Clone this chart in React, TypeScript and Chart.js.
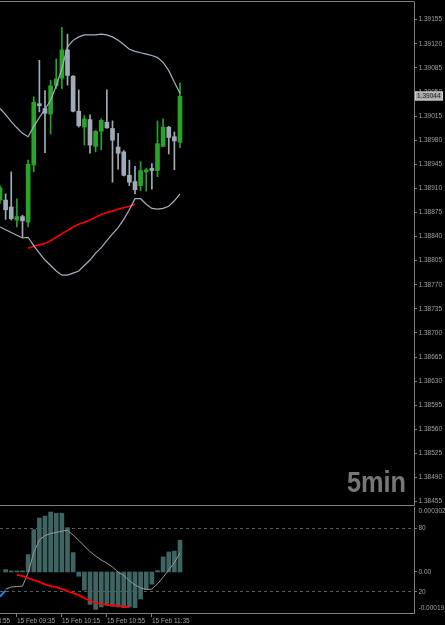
import React, { useEffect, useRef } from 'react';
import { Chart, registerables } from 'chart.js';

Chart.register(...registerables);

// ---- data (5-minute candles, index 0 = 15 Feb 09:20) ----
const opens = [1.38893, 1.38893, 1.38883, 1.38864, 1.38869, 1.38861, 1.38944, 1.39033, 1.39026, 1.39018, 1.39059, 1.39070, 1.39111, 1.39073, 1.39022, 1.38999, 1.39010, 1.38971, 1.38993, 1.39006, 1.38997, 1.38970, 1.38963, 1.38929, 1.38920, 1.38914, 1.38934, 1.38939, 1.38936, 1.38971, 1.38999, 1.38985, 1.38977];
const highs = [1.38914, 1.38902, 1.38934, 1.38895, 1.38871, 1.38951, 1.39043, 1.39096, 1.39052, 1.39067, 1.39098, 1.39144, 1.39134, 1.39074, 1.39053, 1.39016, 1.39017, 1.38994, 1.39011, 1.39053, 1.39008, 1.38990, 1.38965, 1.38951, 1.38942, 1.38949, 1.38939, 1.38946, 1.39008, 1.39011, 1.39000, 1.38992, 1.39063];
const lows = [1.38888, 1.38865, 1.38864, 1.38854, 1.38839, 1.38854, 1.38934, 1.39021, 1.38962, 1.38989, 1.39055, 1.39055, 1.39060, 1.39021, 1.38999, 1.38973, 1.38961, 1.38963, 1.38966, 1.38997, 1.38919, 1.38938, 1.38928, 1.38914, 1.38902, 1.38907, 1.38906, 1.38909, 1.38927, 1.38971, 1.38960, 1.38937, 1.38969];
const closes = [1.38911, 1.38879, 1.38866, 1.38869, 1.38863, 1.38945, 1.39035, 1.39030, 1.39019, 1.39059, 1.39069, 1.39111, 1.39074, 1.39022, 1.39001, 1.39011, 1.38973, 1.38993, 1.39009, 1.38998, 1.38980, 1.38961, 1.38929, 1.38919, 1.38908, 1.38936, 1.38937, 1.38936, 1.38975, 1.38999, 1.38984, 1.38979, 1.39044];

const upperBand = [1.39026, 1.39017, 1.39007, 1.38998, 1.38990, 1.38985, 1.39000, 1.39013, 1.39025, 1.39038, 1.39059, 1.39084, 1.39116, 1.39125, 1.39130, 1.39133, 1.39133, 1.39133, 1.39134, 1.39133, 1.39130, 1.39125, 1.39119, 1.39112, 1.39109, 1.39107, 1.39105, 1.39103, 1.39100, 1.39093, 1.39081, 1.39064, 1.39048];
const lowerBand = [1.38854, 1.38850, 1.38846, 1.38842, 1.38838, 1.38839, 1.38827, 1.38816, 1.38806, 1.38798, 1.38790, 1.38784, 1.38784, 1.38787, 1.38790, 1.38798, 1.38806, 1.38816, 1.38824, 1.38834, 1.38844, 1.38853, 1.38865, 1.38879, 1.38895, 1.38895, 1.38887, 1.38881, 1.38880, 1.38881, 1.38884, 1.38892, 1.38902];
const redPriceLine = [null, null, null, null, null, 1.38823, 1.38826, 1.38828, 1.38830, 1.38834, 1.38839, 1.38844, 1.38849, 1.38854, 1.38858, 1.38861, 1.38864, 1.38868, 1.38872, 1.38875, 1.38877, 1.38880, 1.38882, 1.38884, 1.38887, null, null, null, null, null, null, null, null];

const histValues = [null, 0.000011, 0.000005, 0.000005, 0.000005, 0.000081, 0.000197, 0.000251, 0.000260, 0.000279, 0.000273, 0.000273, 0.000206, 0.000090, -0.000020, -0.000084, -0.000151, -0.000174, -0.000163, -0.000156, -0.000160, -0.000163, -0.000166, -0.000163, -0.000166, -0.000126, -0.000082, -0.000057, 0.0000065, 0.000070, 0.000093, 0.000097, 0.000148];
const stochLine = [null, 22.5, 24.5, 25, 25.3, 38, 57, 69, 73, 75, 76, 77.2, 78.1, 73.5, 68.5, 63.2, 57.8, 53.8, 50, 47, 43.4, 38.5, 35.3, 30.5, 26.5, 23.7, 22.2, 22.5, 27.5, 33.7, 40.6, 47.5, 56.8];
const stochRed = [null, null, null, 36.3, 34.8, 33, 31, 29.3, 27, 25.4, 24.3, 22.8, 20.6, 18.7, 16.9, 14, 11.8, 9.6, 8.6, 7.9, 7.3, 6.8, 6, 5.3, null, null, null, null, null, null, null, null, null];
const stochBlue = [15.5, 21, null, null, null, null, null, null, null, null, null, null, null, null, null, null, null, null, null, null, null, null, null, null, null, null, null, null, null, null, null, null, null];

const priceTicks = [1.38455, 1.38490, 1.38525, 1.38560, 1.38595, 1.38630, 1.38665, 1.38700, 1.38735, 1.38770, 1.38805, 1.38840, 1.38875, 1.38910, 1.38945, 1.38980, 1.39015, 1.39050, 1.39085, 1.39120, 1.39155];
const timeTickIdx = [-5, 3, 11, 19, 27];
const timeLabels = ['15 Feb 08:55', '15 Feb 09:35', '15 Feb 10:15', '15 Feb 10:55', '15 Feb 11:35'];
const histMax = 0.0003023;
const histMin = -0.000191;
const levelHigh = 80;
const levelLow = 20;
const timeframeLabel = '5min';

// ---- view ranges / styles ----
const priceMin = 1.384502;
const priceMax = 1.391807;
const xMin = 0;
const xMax = 73.6;

const BULL = '#28a428';
const BEAR = '#a0abb8';
const BAND = '#a3b1c2';
const LINE = '#7f7f7f';
const TEXT = '#a0a0a0';
const HIST = '#3f6464';
const FONT = { family: 'Liberation Sans', size: 6.5 };

const noPad = (s: any) => {
  s.paddingLeft = 0;
  s.paddingRight = 0;
  s.paddingTop = 0;
  s.paddingBottom = 0;
};

export default function App() {
  const mainRef = useRef<HTMLCanvasElement>(null);
  const indRef = useRef<HTMLCanvasElement>(null);

  useEffect(() => {
    const idx = closes.map((_, i) => i);
    const colors = closes.map((c, i) => (c >= opens[i] ? BULL : BEAR));
    const pts = (arr: (number | null)[]) =>
      idx.filter((i) => arr[i] !== null).map((i) => ({ x: i, y: arr[i] as number }));

    const mainDeco = {
      id: 'mainDeco',
      beforeDatasetsDraw(chart: any) {
        const { ctx, chartArea } = chart;
        ctx.save();
        ctx.fillStyle = '#777777';
        ctx.font = 'bold 30px "Liberation Sans"';
        ctx.textAlign = 'right';
        ctx.textBaseline = 'alphabetic';
        ctx.fillText(timeframeLabel, chartArea.right - 8, chartArea.bottom - 13, 59);
        ctx.restore();
      },
      afterDraw(chart: any) {
        const { ctx, chartArea } = chart;
        ctx.save();
        ctx.strokeStyle = LINE;
        ctx.lineWidth = 1;
        ctx.beginPath();
        ctx.moveTo(0, 1.5);
        ctx.lineTo(chartArea.right + 0.5, 1.5);
        ctx.moveTo(0, chartArea.bottom + 0.5);
        ctx.lineTo(chartArea.right + 0.5, chartArea.bottom + 0.5);
        ctx.stroke();
        const last = closes[closes.length - 1];
        const y = chart.scales.y.getPixelForValue(last);
        ctx.fillStyle = '#a9a9a9';
        ctx.fillRect(chartArea.right + 1, Math.round(y) - 4.5, 28, 9);
        ctx.strokeStyle = '#d0d0d0';
        ctx.strokeRect(chartArea.right + 1.5, Math.round(y) - 4, 27, 8);
        ctx.fillStyle = '#202020';
        ctx.font = '6.5px "Liberation Sans"';
        ctx.textAlign = 'left';
        ctx.textBaseline = 'middle';
        ctx.fillText(last.toFixed(5), chartArea.right + 3, Math.round(y) + 0.5);
        ctx.restore();
      },
    };

    const mainChart = new Chart(mainRef.current as HTMLCanvasElement, {
      type: 'bar',
      data: {
        datasets: [
          { type: 'line', data: pts(upperBand), borderColor: BAND, borderWidth: 1.2, pointRadius: 0, order: 0 } as any,
          { type: 'line', data: pts(lowerBand), borderColor: BAND, borderWidth: 1.2, pointRadius: 0, order: 0 } as any,
          { type: 'line', data: pts(redPriceLine), borderColor: '#ff0000', borderWidth: 1.6, pointRadius: 0, order: 0 } as any,
          {
            type: 'bar',
            data: idx.map((i) => ({ x: i, y: [lows[i], highs[i]] })),
            backgroundColor: colors,
            barThickness: 1,
            grouped: false,
            order: 2,
          } as any,
          {
            type: 'bar',
            data: idx.map((i) => ({ x: i, y: [opens[i], closes[i]] })),
            backgroundColor: colors,
            barThickness: 4,
            minBarLength: 1,
            grouped: false,
            order: 1,
          } as any,
        ],
      },
      options: {
        animation: false,
        responsive: false,
        events: [],
        layout: { padding: { top: 2, bottom: 1, left: 0, right: 0 } },
        plugins: { legend: { display: false }, tooltip: { enabled: false } },
        scales: {
          x: { type: 'linear', min: xMin, max: xMax, offset: false, display: false },
          y: {
            type: 'linear',
            position: 'right',
            min: priceMin,
            max: priceMax,
            afterBuildTicks: (s: any) => {
              s.ticks = priceTicks.map((v) => ({ value: v }));
            },
            afterFit: (s: any) => {
              s.width = 31;
              noPad(s);
            },
            ticks: {
              color: TEXT,
              font: FONT,
              padding: 1.5,
              autoSkip: false,
              callback: (v: any) => Number(v).toFixed(5),
            },
            grid: { drawOnChartArea: false, drawTicks: true, tickLength: 3, color: LINE },
            border: { display: true, color: LINE, width: 1 },
          },
        },
      } as any,
      plugins: [mainDeco],
    });

    const zeroS = (100 * (0 - histMin)) / (histMax - histMin);
    const topPos = 96.2;
    const botPos = 4.7;
    const yTickVals = [botPos, levelLow, zeroS, levelHigh, topPos];
    const yTickLabels = [histMin.toFixed(6), String(levelLow), '0.00', String(levelHigh), histMax.toFixed(7)];

    const indChart = new Chart(indRef.current as HTMLCanvasElement, {
      type: 'bar',
      data: {
        datasets: [
          {
            type: 'bar',
            data: pts(histValues),
            backgroundColor: HIST,
            barThickness: 4,
            grouped: false,
            yAxisID: 'yH',
            order: 3,
          } as any,
          { type: 'line', data: pts(stochLine), borderColor: '#9a9a9a', borderWidth: 1, pointRadius: 0, yAxisID: 'yS', order: 1 } as any,
          { type: 'line', data: pts(stochRed), borderColor: '#ff0000', borderWidth: 1.8, pointRadius: 0, yAxisID: 'yS', order: 0 } as any,
          { type: 'line', data: pts(stochBlue), borderColor: '#1e90ff', borderWidth: 1.8, pointRadius: 0, yAxisID: 'yS', order: 0 } as any,
        ],
      },
      options: {
        animation: false,
        responsive: false,
        events: [],
        layout: { padding: { top: 1, bottom: 0, left: 0, right: 0 } },
        plugins: { legend: { display: false }, tooltip: { enabled: false } },
        scales: {
          x: {
            type: 'linear',
            position: 'bottom',
            min: xMin,
            max: xMax,
            offset: false,
            afterBuildTicks: (s: any) => {
              s.ticks = timeTickIdx.map((v) => ({ value: v }));
            },
            afterFit: (s: any) => {
              s.height = 12;
              noPad(s);
            },
            ticks: {
              autoSkip: false,
              maxRotation: 0,
              minRotation: 0,
              align: 'start',
              padding: 0,
              color: TEXT,
              font: FONT,
              callback: (_v: any, i: number) => timeLabels[i],
            },
            grid: { drawOnChartArea: false, drawTicks: true, tickLength: 4, color: LINE, offset: false },
            border: { display: true, color: LINE, width: 1 },
          },
          yS: {
            type: 'linear',
            position: 'right',
            min: 0,
            max: 100,
            afterBuildTicks: (s: any) => {
              s.ticks = yTickVals.map((v) => ({ value: v }));
            },
            afterFit: (s: any) => {
              s.width = 31;
              noPad(s);
            },
            ticks: {
              color: TEXT,
              font: FONT,
              padding: 1.5,
              autoSkip: false,
              callback: (_v: any, i: number) => yTickLabels[i],
            },
            grid: {
              drawOnChartArea: true,
              drawTicks: true,
              tickLength: 3,
              color: (c: any) =>
                c.tick && (c.tick.value === levelHigh || c.tick.value === levelLow) ? '#5c5c5c' : 'transparent',
              tickColor: (c: any) =>
                c.tick && (c.tick.value === topPos || c.tick.value === botPos) ? 'transparent' : LINE,
            },
            border: { display: true, color: LINE, width: 1, dash: [3, 3] },
          },
          yH: { type: 'linear', display: false, min: histMin, max: histMax },
        },
      } as any,
    });

    return () => {
      mainChart.destroy();
      indChart.destroy();
    };
  }, []);

  return (
    <div style={{ position: 'absolute', left: 0, top: 0, width: 445, height: 625, background: '#000', overflow: 'hidden' }}>
      <canvas ref={mainRef} width={445} height={506} style={{ display: 'block', position: 'absolute', left: 0, top: 0 }} />
      <canvas ref={indRef} width={445} height={119} style={{ display: 'block', position: 'absolute', left: 0, top: 506 }} />
    </div>
  );
}
